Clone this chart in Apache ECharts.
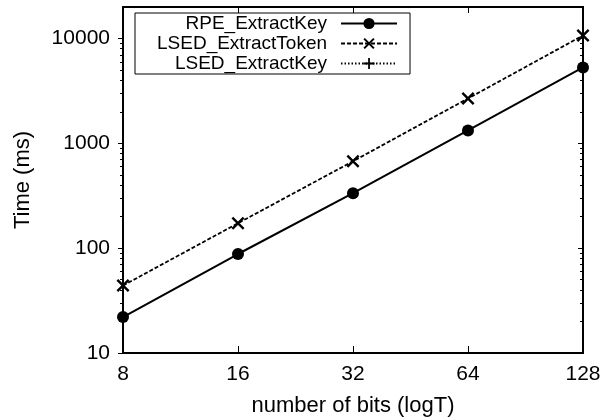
<!DOCTYPE html>
<html>
<head>
<meta charset="utf-8">
<script src="https://cdn.jsdelivr.net/npm/echarts@6/dist/echarts.min.js"></script>
<style>
  html, body { margin: 0; padding: 0; background: #fff; }
  #chart { width: 603px; height: 418px; }
</style>
</head>
<body>
<div id="chart"></div>
<script>
// data
const bits = [8, 16, 32, 64, 128]
const rpeExtractKey = [22, 88, 335, 1330, 5300]
const lsedExtractToken = [44, 173, 675, 2680, 10700]
const lsedExtractKey = [] // in the legend only, nothing drawn in the plot
const yMajorTicks = [10, 100, 1000, 10000]
const yMinorTicks = [20, 30, 40, 50, 60, 70, 80, 90, 200, 300, 400, 500, 600, 700, 800, 900,
  2000, 3000, 4000, 5000, 6000, 7000, 8000, 9000]

const font = 'Liberation Sans, Arial, Helvetica, sans-serif'
const black = '#000'

// X and + markers as filled paths
const crossPath = 'path://M-0.75,0.75L0.75,-0.75L10.75,9.25L9.25,10.75ZM9.25,-0.75L10.75,0.75L0.75,10.75L-0.75,9.25Z'
const plusPath = 'path://M4.2,0H5.8V4.2H10V5.8H5.8V10H4.2V5.8H0V4.2H4.2Z'

const pairs = (xs, ys) => ys.map((y, i) => [xs[i], y])

function yAxis(position, ticks, len, inside, labels) {
  return {
    type: 'log',
    logBase: 10,
    min: 10,
    max: 20000,
    position: position,
    axisLine: { show: labels || position === 'right', lineStyle: { color: black, width: 2 } },
    axisTick: { show: true, customValues: ticks, inside: inside, length: len, lineStyle: { color: black, width: 1 } },
    axisLabel: {
      show: labels,
      customValues: yMajorTicks,
      formatter: v => String(Math.round(v)),
      margin: 13,
      color: black,
      fontSize: 21,
      fontFamily: font
    },
    splitLine: { show: false },
    name: labels ? 'Time (ms)' : '',
    nameLocation: 'middle',
    nameGap: 89,
    nameTextStyle: { color: black, fontSize: 22, fontFamily: font }
  }
}

const chart = echarts.init(document.getElementById('chart'), null, { renderer: 'canvas' })

chart.setOption({
  animation: false,
  backgroundColor: '#fff',
  grid: { left: 123, right: 20, top: 7, bottom: 65, outerBoundsMode: 'none', containLabel: false },
  legend: {
    orient: 'vertical',
    align: 'right',
    left: 135,
    top: 13,
    padding: [1, 12, 1, 22],
    itemWidth: 56,
    itemHeight: 14,
    itemGap: 1,
    borderColor: black,
    borderWidth: 1,
    textStyle: { color: black, fontSize: 19, fontFamily: font, lineHeight: 18, padding: [0, 9, 0, 0] },
    data: ['RPE_ExtractKey', 'LSED_ExtractToken', 'LSED_ExtractKey']
  },
  xAxis: [{
    type: 'log',
    logBase: 2,
    min: 8,
    max: 128,
    position: 'bottom',
    axisLine: { lineStyle: { color: black, width: 2 } },
    axisTick: { customValues: bits, inside: true, length: 7, lineStyle: { color: black } },
    axisLabel: { customValues: bits, formatter: v => String(Math.round(v)), margin: 11, color: black, fontSize: 21, fontFamily: font },
    splitLine: { show: false },
    name: 'number of bits (logT)',
    nameLocation: 'middle',
    nameGap: 42,
    nameTextStyle: { color: black, fontSize: 22, fontFamily: font }
  }, {
    type: 'log',
    logBase: 2,
    min: 8,
    max: 128,
    position: 'top',
    axisLine: { lineStyle: { color: black, width: 2 } },
    axisTick: { customValues: bits, inside: true, length: 6, lineStyle: { color: black } },
    axisLabel: { show: false },
    splitLine: { show: false }
  }],
  yAxis: [
    yAxis('left', yMajorTicks, 5, false, true),
    yAxis('left', yMinorTicks, 3, false, false),
    yAxis('right', yMajorTicks, 5, true, false),
    yAxis('right', yMinorTicks, 3, true, false)
  ],
  series: [{
    name: 'RPE_ExtractKey',
    type: 'line',
    data: pairs(bits, rpeExtractKey),
    symbol: 'circle',
    symbolSize: 12,
    color: black,
    itemStyle: { color: black },
    lineStyle: { color: black, width: 2, type: 'solid' }
  }, {
    name: 'LSED_ExtractToken',
    type: 'line',
    data: pairs(bits, lsedExtractToken),
    symbol: crossPath,
    symbolSize: 13,
    color: black,
    itemStyle: { color: black },
    lineStyle: { color: black, width: 1.8, type: [4, 2] }
  }, {
    name: 'LSED_ExtractKey',
    type: 'line',
    data: pairs(bits, lsedExtractKey),
    symbol: plusPath,
    symbolSize: 13,
    color: black,
    itemStyle: { color: black },
    lineStyle: { color: black, width: 1.8, type: [1.5, 2] }
  }]
})
</script>
</body>
</html>
